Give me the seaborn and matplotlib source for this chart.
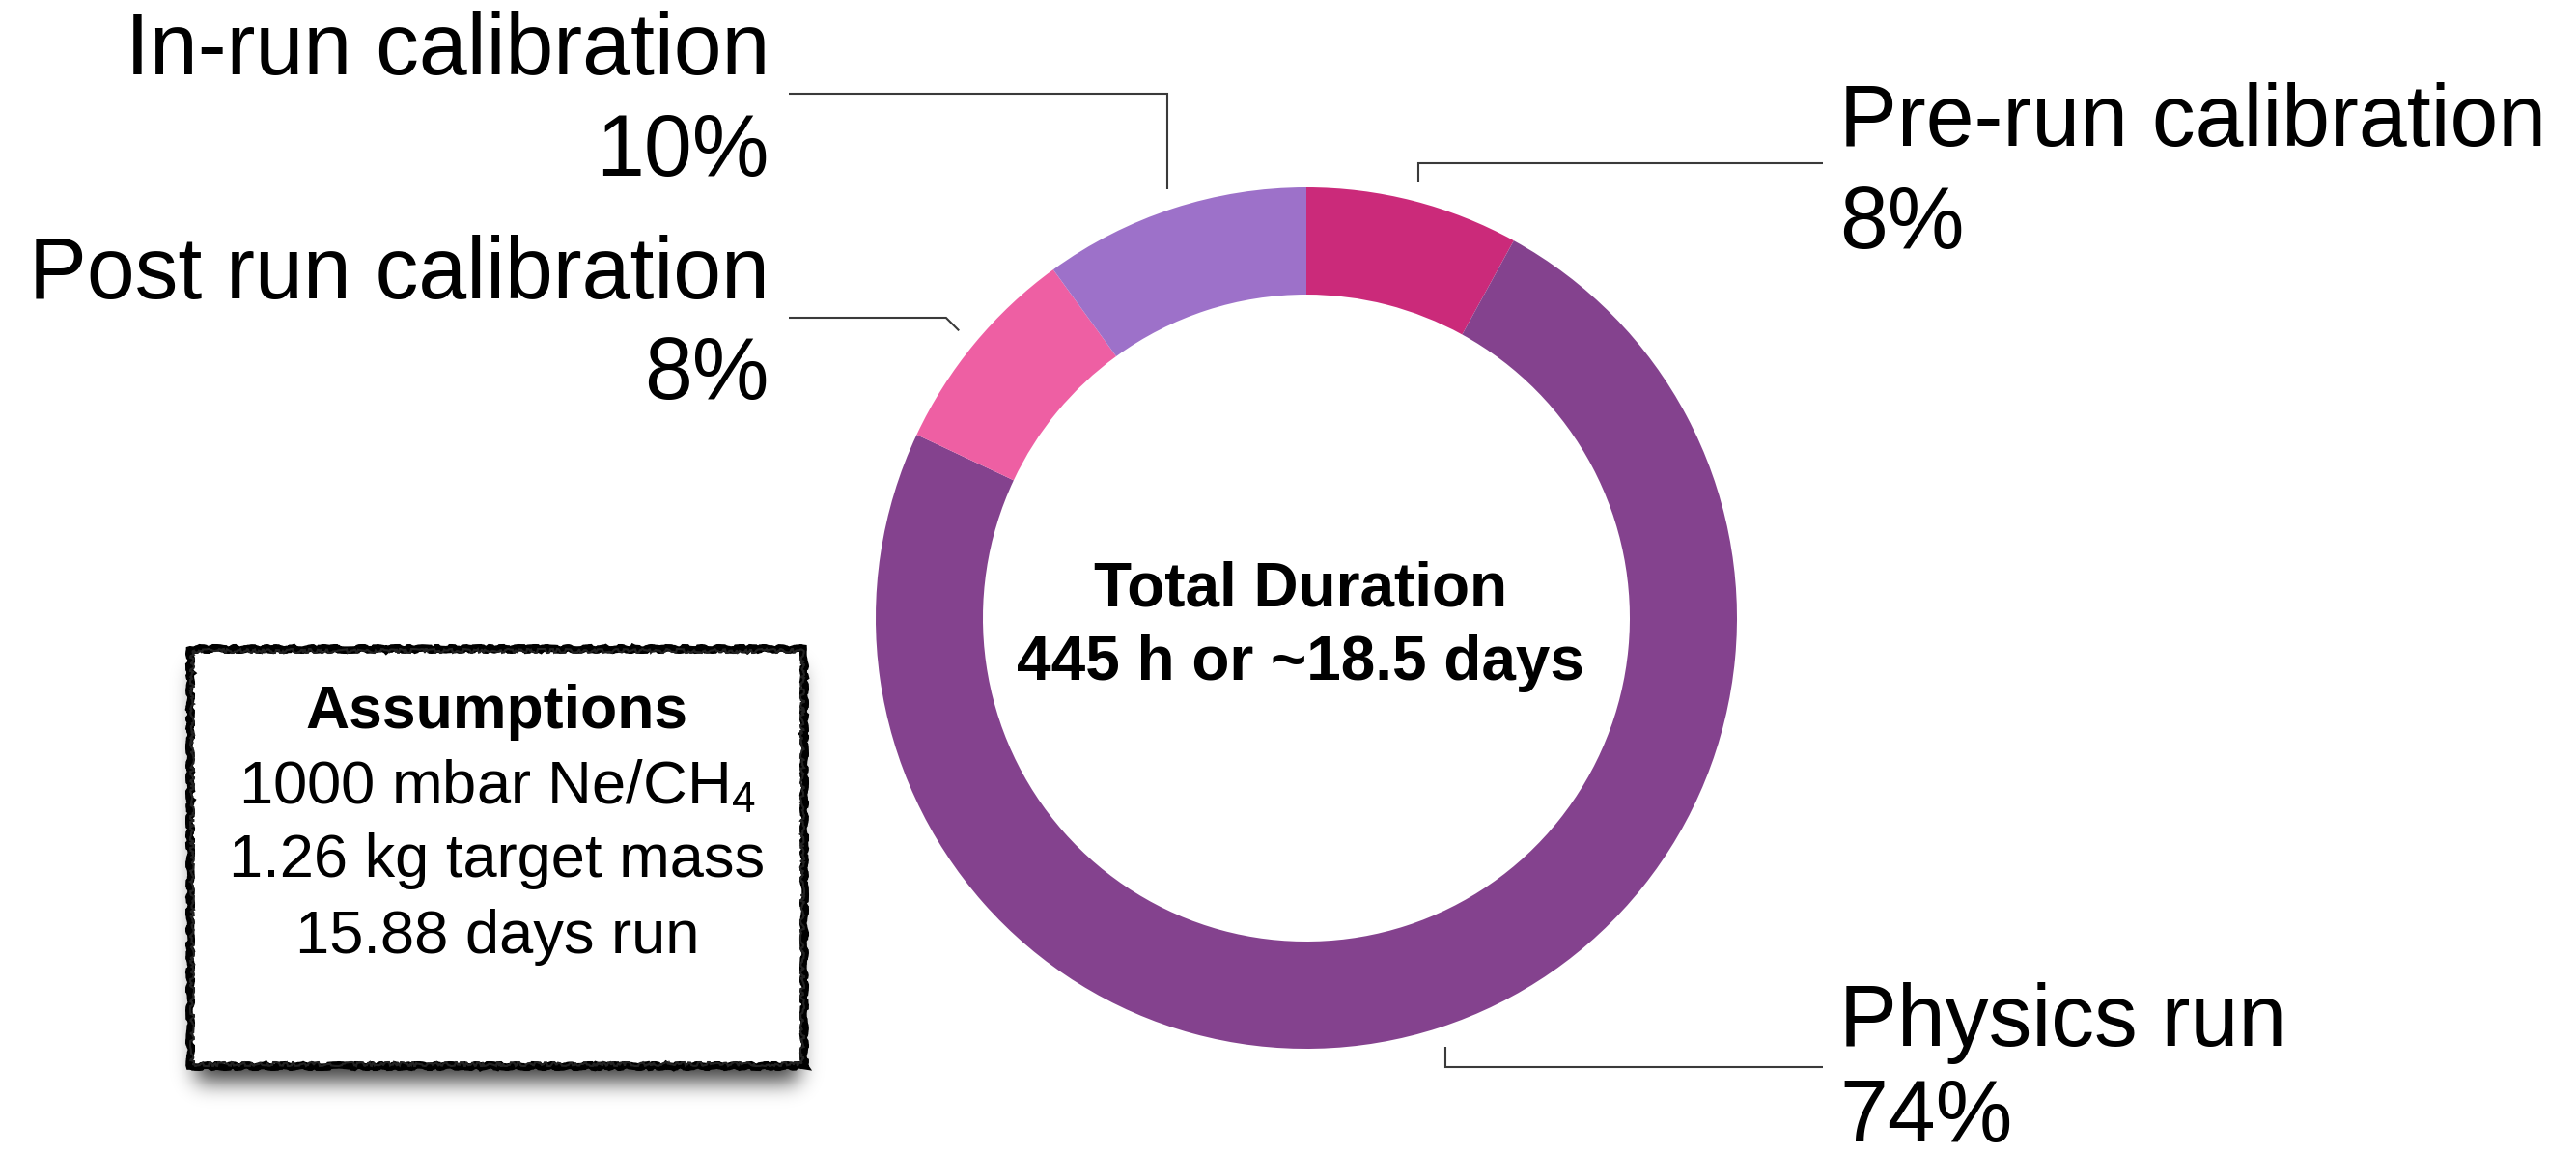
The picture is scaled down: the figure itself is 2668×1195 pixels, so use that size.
import numpy as np
import matplotlib
matplotlib.use("Agg")
import matplotlib.pyplot as plt
import seaborn as sns
from matplotlib.patches import Rectangle

# ---------------- data ----------------
labels = ["Pre-run calibration", "Physics run", "Post run calibration", "In-run calibration"]
shares = [8, 74, 8, 10]
pct_text = ["8%", "74%", "8%", "10%"]
colors = ["#CB2A7A", "#84428E", "#EE5FA3", "#9D71C9"]
center_title = "Total Duration"
center_sub = "445 h or ~18.5 days"
box_title = "Assumptions"
box_lines = ["1000 mbar Ne/CH$_\\mathrm{4}$", "1.26 kg target mass", "15.88 days run"]

# ---------------- style ----------------
W, H = 2668, 1195
sns.set_theme(style="white")
plt.rcParams['font.family'] = ['Liberation Sans', 'DejaVu Sans']
plt.rcParams['text.color'] = 'black'
plt.rcParams['mathtext.fontset'] = 'custom'
plt.rcParams['mathtext.rm'] = 'Liberation Sans'
plt.rcParams['mathtext.it'] = 'Liberation Sans:italic'
plt.rcParams['mathtext.bf'] = 'Liberation Sans:bold'

fig = plt.figure(figsize=(W / 100, H / 100), dpi=100)
fig.patch.set_facecolor("white")
ax = fig.add_axes([0, 0, 1, 1])


def Y(y):
    return H - y


# ---------------- donut ----------------
cx, cy, R, ring = 1353, 640, 446, 111
wedges, _ = ax.pie(shares, colors=colors, startangle=90, counterclock=False,
                   radius=R, center=(cx, Y(cy)),
                   wedgeprops=dict(width=ring, linewidth=0))
ax.set_xlim(0, W)
ax.set_ylim(0, H)
ax.set_aspect('equal')
ax.axis('off')

# ---------------- leader lines and labels ----------------
# (side, elbow y (px), end x (px), kind, text x, baseline1, baseline2)
layout = [
    ("right", 169, 1888, "vert", 1905, 151, 257),
    ("right", 1105, 1888, "vert", 1905, 1083, 1182),
    ("left", 329, 817, "diag", 797, 309, 413),
    ("left", 97, 817, "vert", 797, 77, 182),
]
r_anchor = R * 1.047
line_kw = dict(color="#3a3a3a", lw=1.5, solid_capstyle="butt", solid_joinstyle="miter")
for w, lab, pct, (side, ey, ex, kind, tx, b1, b2) in zip(wedges, labels, pct_text, layout):
    mid = np.deg2rad((w.theta1 + w.theta2) / 2)
    axp = cx + r_anchor * np.cos(mid)
    ayp = cy - r_anchor * np.sin(mid)  # pixel y (down)
    if kind == "vert":
        xs = [axp, axp, ex]
        ys = [ayp, ey, ey]
    else:
        dy = abs(ayp - ey)
        elx = axp - dy if side == "left" else axp + dy
        xs = [axp, elx, ex]
        ys = [ayp, ey, ey]
    ax.plot(xs, [Y(v) for v in ys], **line_kw)
    ha = "left" if side == "right" else "right"
    ax.text(tx, Y(b1), lab, fontsize=64.5, ha=ha, va="baseline", color="black")
    ax.text(tx, Y(b2), pct, fontsize=64.5, ha=ha, va="baseline", color="black")

# ---------------- center text ----------------
ax.text(1347, Y(627), center_title, fontsize=46, fontweight="bold", ha="center",
        va="baseline", color="black")
ax.text(1347, Y(704), center_sub, fontsize=46, fontweight="bold", ha="center",
        va="baseline", color="black")

# ---------------- assumptions box ----------------
bx0, bx1, by0, by1 = 197, 833, 672, 1104

# soft shadow (separable gaussian blur of an offset rectangle)
pad = 70
gx = np.arange(bx0 - pad, bx1 + pad)
gy = np.arange(by0 - pad, by1 + pad)
sig = 11.0
k = np.arange(-40, 41)
kern = np.exp(-0.5 * (k / sig) ** 2)
kern /= kern.sum()
mx = ((gx >= bx0 + 6) & (gx <= bx1 - 6)).astype(float)
my = ((gy >= by0 + 20) & (gy <= by1 + 16)).astype(float)
bxv = np.convolve(mx, kern, mode="same")
byv = np.convolve(my, kern, mode="same")
alpha = np.outer(byv, bxv) * 0.75
img = np.zeros((len(gy), len(gx), 4))
img[..., 3] = alpha
ax.imshow(img, extent=(gx[0], gx[-1], Y(gy[-1]), Y(gy[0])), origin="upper",
          zorder=1, interpolation="bilinear")
ax.set_xlim(0, W)
ax.set_ylim(0, H)

box = Rectangle((bx0, Y(by1)), bx1 - bx0, by1 - by0, facecolor="white",
                edgecolor="black", lw=5.5, zorder=2)
box.set_sketch_params(scale=1.2, length=40, randomness=12)
ax.add_patch(box)
box2 = Rectangle((bx0 + 2, Y(by1) + 2), bx1 - bx0 - 4, by1 - by0 - 4, facecolor="none",
                 edgecolor="#222222", lw=1.5, zorder=3)
box2.set_sketch_params(scale=2.0, length=25, randomness=20)
ax.add_patch(box2)

cxb = (bx0 + bx1) / 2
ax.text(cxb, Y(754), box_title, fontsize=45, fontweight="bold", ha="center",
        va="baseline", zorder=4, color="black")
for line, base in zip(box_lines, [832, 908, 987]):
    ax.text(cxb, Y(base), line, fontsize=45.5, ha="center", va="baseline", zorder=4,
            color="black")

fig.savefig("out.png", dpi=100, facecolor="white")
